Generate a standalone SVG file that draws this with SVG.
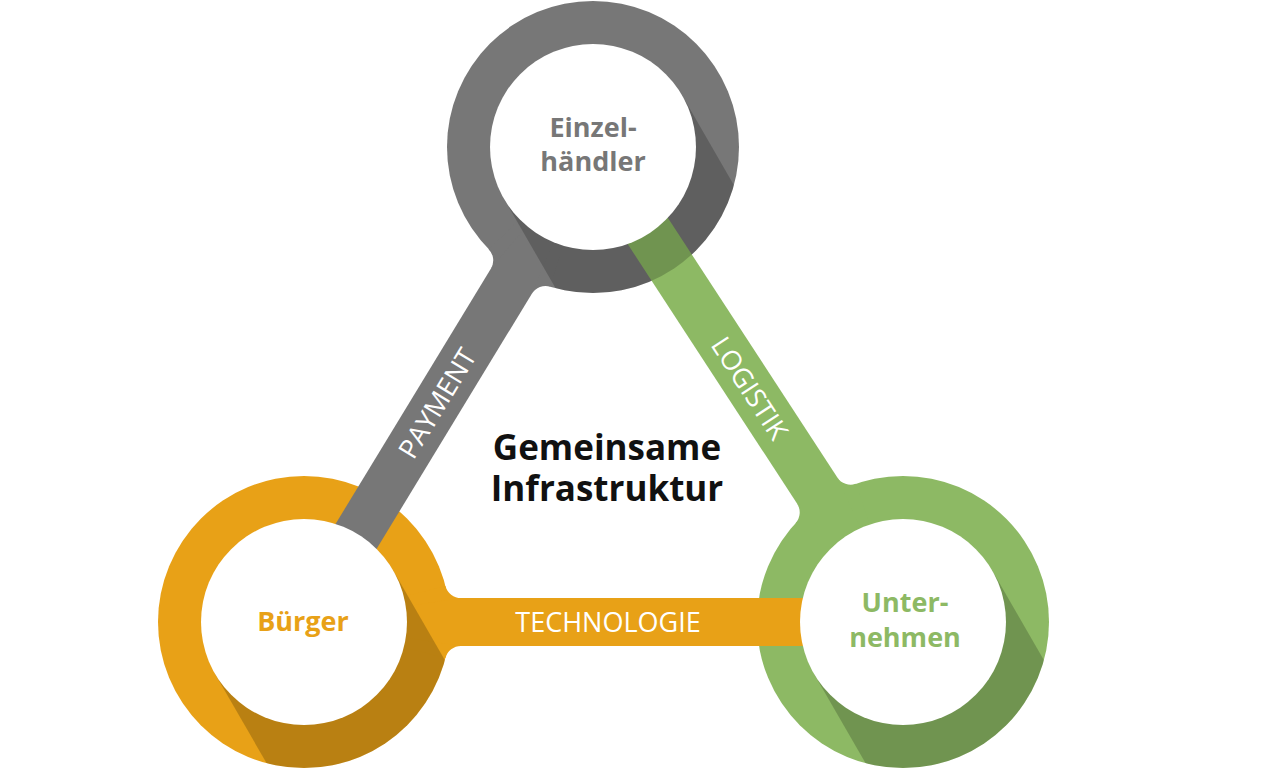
<svg xmlns="http://www.w3.org/2000/svg" width="1280" height="776" viewBox="0 0 1280 776">
  <style>
    .gray{fill:#777777}
    .orange{fill:#E8A117}
    .green{fill:#8DB964}
    .shadow{fill:#000000;fill-opacity:0.2}
    .face{fill:#ffffff}
    .node-label{font-family:"Open Sans","Liberation Sans",sans-serif;font-weight:700;font-size:27px;text-anchor:middle}
    .bar-label{font-family:"Open Sans","Liberation Sans",sans-serif;font-weight:400;font-size:27px;fill:#ffffff;text-anchor:middle}
    .center-label{font-family:"Open Sans","Liberation Sans",sans-serif;font-weight:700;font-size:35px;fill:#111111;text-anchor:middle}
  </style>
  <defs>
    <clipPath id="clip-g"><circle cx="593" cy="147" r="146"/></clipPath>
    <clipPath id="clip-o"><circle cx="304" cy="622" r="146"/></clipPath>
    <clipPath id="clip-n"><circle cx="903" cy="622" r="146"/></clipPath>
  </defs>
  <rect width="1280" height="776" fill="#ffffff"/>

  <g id="rings">
    <circle id="ring-einzelhaendler" class="gray" cx="593" cy="147" r="146"/>
    <circle id="ring-buerger" class="orange" cx="304" cy="622" r="146"/>
    <circle id="ring-unternehmen" class="green" cx="903" cy="622" r="146"/>
  </g>

  <g id="connectors">
    <g id="conn-payment">
      <polygon class="gray" points="613.50,159.48 324.50,634.48 283.50,609.52 572.50,134.52"/>
      <path class="gray" d="M550.25 286.60 A16 16 0 0 0 531.90 293.59 L593 147 Z"/>
      <path class="gray" d="M488.66 249.13 A16 16 0 0 1 490.90 268.63 L593 147 Z"/>
    </g>
    <g id="conn-logistik">
      <polygon class="green" points="923.10,608.88 613.10,133.88 572.90,160.12 882.90,635.12"/>
      <path class="green" d="M855.87 483.82 A16 16 0 0 1 837.31 477.42 L903 622 Z"/>
      <path class="green" d="M795.49 523.23 A16 16 0 0 0 797.11 503.66 L903 622 Z"/>
    </g>
    <g id="conn-technologie">
      <rect class="orange" x="304" y="598" width="599" height="48"/>
      <path class="orange" d="M445.47 658.05 A16 16 0 0 1 460.98 646 L304 622 Z"/>
      <path class="orange" d="M445.47 585.95 A16 16 0 0 0 460.98 598 L304 622 Z"/>
    </g>
    <text class="bar-label" transform="translate(437,403) rotate(-58.7)" x="0" y="10">PAYMENT</text>
    <text class="bar-label" transform="translate(750,388) rotate(56.9)" x="0" y="10">LOGISTIK</text>
    <text class="bar-label" x="608" y="632">TECHNOLOGIE</text>
  </g>

  <g id="node-einzelhaendler">
    <polygon class="shadow" clip-path="url(#clip-g)" points="682.2,95.5 882.2,441.9 703.8,544.9 503.8,198.5"/>
    <circle class="face" cx="593" cy="147" r="103"/>
    <text class="node-label" fill="#777777"><tspan x="593" y="137">Einzel-</tspan><tspan x="593" y="171">händler</tspan></text>
  </g>

  <g id="node-buerger">
    <polygon class="shadow" clip-path="url(#clip-o)" points="393.2,570.5 593.2,916.9 414.8,1019.9 214.8,673.5"/>
    <circle class="face" cx="304" cy="622" r="103"/>
    <text class="node-label" fill="#E8A117" x="303" y="631">Bürger</text>
  </g>

  <g id="node-unternehmen">
    <polygon class="shadow" clip-path="url(#clip-n)" points="992.2,570.5 1192.2,916.9 1013.8,1019.9 813.8,673.5"/>
    <circle class="face" cx="903" cy="622" r="103"/>
    <text class="node-label" fill="#8DB964"><tspan x="905" y="612">Unter-</tspan><tspan x="905" y="647">nehmen</tspan></text>
  </g>

  <g id="center">
    <text class="center-label"><tspan x="607" y="460">Gemeinsame</tspan><tspan x="607" y="501">Infrastruktur</tspan></text>
  </g>
</svg>
